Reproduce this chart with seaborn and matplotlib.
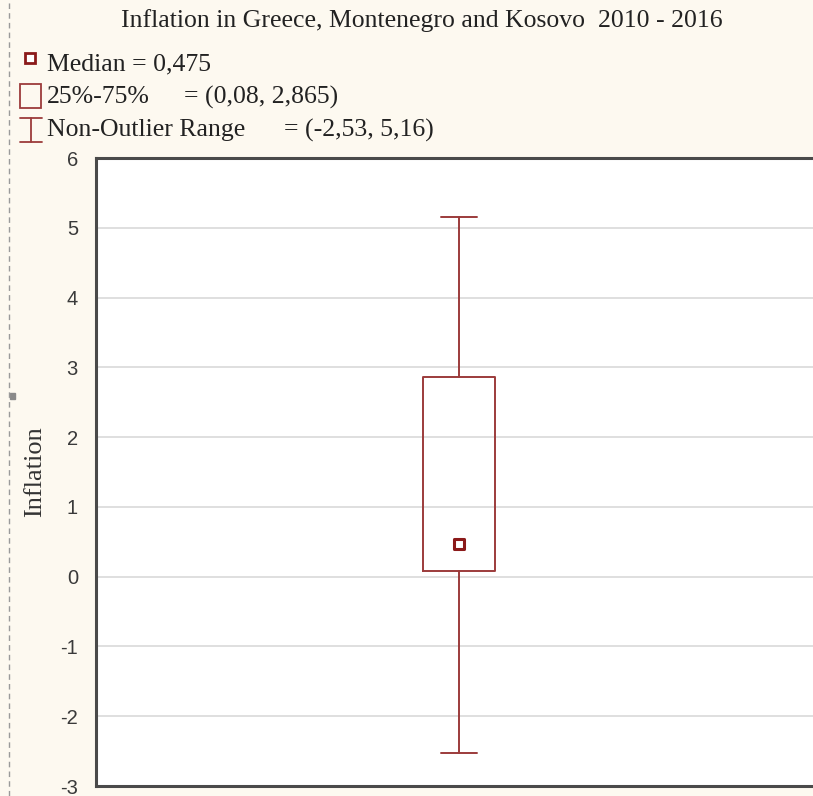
import matplotlib
matplotlib.use("Agg")
import matplotlib.pyplot as plt
import seaborn as sns
from matplotlib.lines import Line2D
from matplotlib.patches import Rectangle

# Summary statistics of inflation (%), 2010-2016
median = 0.475
q1, q3 = 0.08, 2.865
whisker_low, whisker_high = -2.53, 5.16

title = "Inflation in Greece, Montenegro and Kosovo  2010 - 2016"
legend_names = ["Median = 0,475", "25%-75%", "Non-Outlier Range"]
legend_values = ["", "= (0,08, 2,865)", "= (-2,53, 5,16)"]
y_ticks = [-3, -2, -1, 0, 1, 2, 3, 4, 5, 6]

sns.set_style("white")
plt.rcParams["font.family"] = ["Liberation Serif", "DejaVu Serif"]

W, H = 813, 796
BG = "#fdf9f0"
RED = "#9c3b3b"
DARK = "#8b1a1a"

fig = plt.figure(figsize=(W / 100, H / 100), dpi=100, facecolor=BG)


def fx(px):
    return px / W


def fy(py):
    return 1 - py / H


left, right, top, bottom = 96, 813, 158, 786
ax = fig.add_axes([fx(left), fy(bottom), fx(right) - fx(left), fy(top) - fy(bottom)])
ax.set_facecolor("white")

stats = [dict(med=median, q1=q1, q3=q3, whislo=whisker_low, whishi=whisker_high, fliers=[])]
ax.bxp(stats, positions=[0], widths=0.1, showfliers=False, patch_artist=False,
       boxprops=dict(color=RED, linewidth=1.4),
       whiskerprops=dict(color=RED, linewidth=1.4),
       capprops=dict(color=RED, linewidth=1.4),
       medianprops=dict(linewidth=0),
       capwidths=0.05)

sns.scatterplot(x=[0], y=[median], marker="s", s=55, facecolor="white",
                edgecolor=DARK, linewidth=2.2, ax=ax, zorder=5)

ax.set_xlim(-0.506, 0.494)
ax.set_ylim(-3, 6)
ax.set_yticks(y_ticks)
ax.set_yticklabels([str(t) for t in y_ticks], family="Liberation Sans",
                   fontsize=14.5, color="#3a3a3a")
ax.set_xticks([])
ax.tick_params(axis="y", direction="in", length=3, width=1, color="#333333", pad=13)
for t in y_ticks[1:-1]:
    ax.axhline(t, color="#dcdcdc", linewidth=1.3, zorder=0)

for side in ["left", "top", "bottom"]:
    ax.spines[side].set_color("#4a4a4a")
    ax.spines[side].set_linewidth(2.2)
ax.spines["right"].set_visible(False)

ax.set_ylabel("Inflation", fontsize=19, color="#333333", labelpad=10)

fig.text(fx(422), fy(21), title, ha="center", va="center", fontsize=18.5, color="#222222")

# Legend drawn in figure pixels
fig.add_artist(Line2D([fx(30)], [fy(58)], marker="s", markersize=6.5,
                      markerfacecolor="white", markeredgecolor=DARK,
                      markeredgewidth=2, transform=fig.transFigure))
fig.add_artist(Rectangle((fx(20), fy(108)), fx(41) - fx(20), fy(84) - fy(108),
                         fill=False, edgecolor=RED, linewidth=1.3,
                         transform=fig.transFigure))
fig.add_artist(Line2D([fx(31), fx(31)], [fy(118), fy(142)], color=RED, lw=1.3,
                      transform=fig.transFigure))
for yy in (118, 142):
    fig.add_artist(Line2D([fx(20), fx(42)], [fy(yy), fy(yy)], color=RED, lw=1.3,
                          transform=fig.transFigure))

text_y = [64, 97, 130]
value_x = [0, 184, 284]
for name, val, yy, vx in zip(legend_names, legend_values, text_y, value_x):
    fig.text(fx(47), fy(yy), name, ha="left", va="center", fontsize=18.5, color="#222222")
    if val:
        fig.text(fx(vx), fy(yy), val, ha="left", va="center", fontsize=18.5, color="#222222")

# dashed frame marker at the left edge
fig.add_artist(Line2D([fx(9), fx(9)], [0, 1], color="#9a9a9a", lw=1,
                      linestyle=(0, (4, 3)), transform=fig.transFigure))
fig.add_artist(Rectangle((fx(10), fy(399)), 5 / W, 6 / H,
                         color="#8a8a8a", transform=fig.transFigure))

fig.savefig("out.png", dpi=100, facecolor=BG)
